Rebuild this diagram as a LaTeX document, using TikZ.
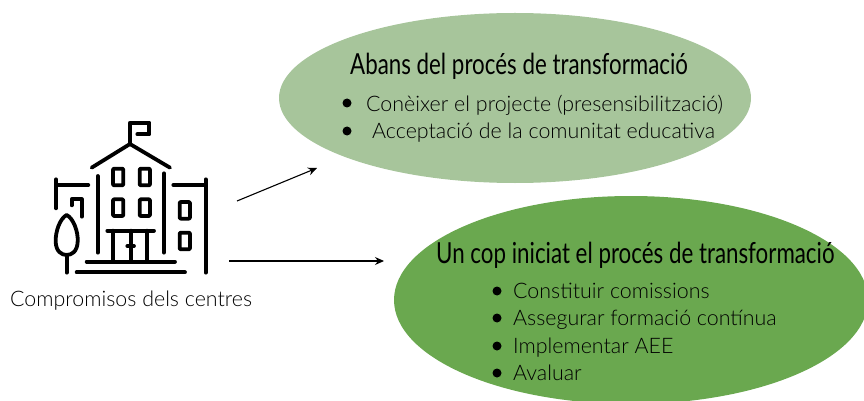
\documentclass[tikz,border=0pt]{standalone}
\usepackage{fontspec}
\setmainfont{Lato Light}
\newfontfamily\headfont[FakeStretch=0.77]{Lato}
\usetikzlibrary{shapes.geometric,arrows.meta}
\definecolor{lightgreen}{HTML}{A7C59B}
\definecolor{darkgreen}{HTML}{6AA84F}
\tikzset{
    blob/.style={ellipse,inner sep=0pt},
    heading/.style={anchor=base west,inner sep=0pt,font=\headfont\fontsize{29}{29}\selectfont},
    item/.style={anchor=base west,inner sep=0pt,font=\fontsize{21.4}{22}\selectfont},
    dot/.style={circle,fill=black,inner sep=0pt,minimum size=9pt},
    icon/.style={line width=3.8pt,line cap=round,line join=round},
    window/.style={icon,rounded corners=1pt},
    link/.style={-{Stealth[length=9pt,width=8pt]},line width=1.1pt}
}
\begin{document}
\begin{tikzpicture}[x=1pt,y=-1pt]
    \useasboundingbox (0,0) rectangle (864,401);
    % Ellipses
    \node[blob,fill=lightgreen,minimum width=472pt,minimum height=170pt] (before) at (515,98) {};
    \node[blob,fill=darkgreen,minimum width=474pt,minimum height=208pt] (after) at (631,300) {};
    % Headings
    \node[heading] (beforetitle) at (350,75) {Abans del procés de transformació};
    \node[heading] (aftertitle) at (436,263) {Un cop iniciat el procés de transformació};
    % First list
    \node[dot] (b1) at (347,103) {};
    \node[dot] (b2) at (347,131) {};
    \node[item] (beforeone) at (366,112) {Conèixer el projecte (presensibilització)};
    \node[item] (beforetwo) at (372,139) {Acceptació de la comunitat educativa};
    % Second list
    \foreach \name/\ypos/\txt in {one/298/Constituir comissions,two/325/Assegurar formació contínua,three/353/Implementar AEE,four/380/Avaluar}{
        \node[dot] (dot\name) at (497,\ypos-7) {};
        \node[item] (after\name) at (513,\ypos) {\txt};
    }
    % School
    \begin{scope}[shift={(30,100)},x=0.3333pt,y=-0.3333pt]
        \draw[icon] (300,130) -- (300,68) -- (358,68) -- (358,103) -- (322,103);
        \draw[icon] (185,203) -- (300,132) -- (420,203);
        \draw[icon] (203,228) -- (203,458);
        \draw[icon] (402,220) -- (402,458);
        \foreach \xa/\ya in {249/206,329/206,249/298,329/298,449/306,449/398}
            \draw[window] (\xa,\ya) rectangle ++(31,50);
        \draw[icon] (78,325) -- (78,238);
        \draw[icon] (78,255) -- (175,255);
        \draw[icon] (430,255) -- (527,255);
        \draw[icon] (527,238) -- (527,518);
        \draw[icon] (125,316) -- (125,298) -- (155,298) -- (155,350);
        % Tree
        \draw[icon] (110,345) .. controls (130,355) and (145,395) .. (143,425) .. controls (142,455) and (125,465) .. (110,465) .. controls (95,465) and (78,455) .. (77,425) .. controls (76,395) and (90,355) .. (110,345) -- cycle;
        \draw[icon] (110,465) -- (110,518);
        % Door and steps
        \draw[icon] (232,392) -- (372,392);
        \draw[icon] (250,392) -- (250,485);
        \draw[icon] (352,392) -- (352,485);
        \draw[icon] (302,392) -- (302,485);
        \draw[icon] (292,438) -- (312,438);
        \draw[icon] (170,485) -- (435,485);
        \draw[icon] (140,517) -- (465,517);
    \end{scope}
    \node[item] (school) at (10,306) {Compromisos dels centres};
    % Arrows
    \coordinate (upstart) at (237,201);
    \coordinate (upend) at (317,168);
    \coordinate (downstart) at (229,261);
    \coordinate (downend) at (384,261);
    \draw[link] (upstart) -- (upend);
    \draw[link] (downstart) -- (downend);
\end{tikzpicture}
\end{document}
